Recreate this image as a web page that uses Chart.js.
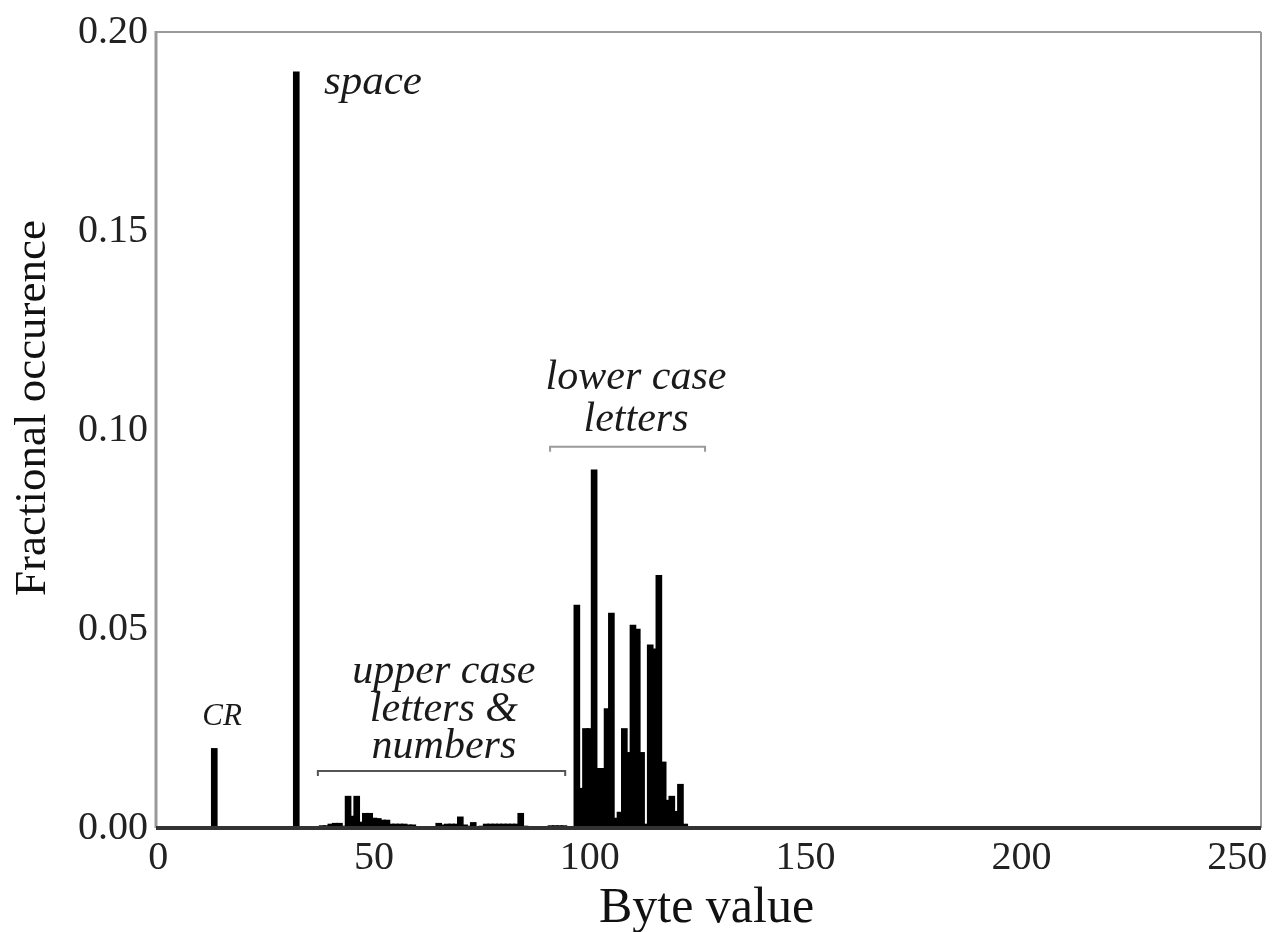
<!DOCTYPE html>
<html>
<head>
<meta charset="utf-8">
<script src="https://cdn.jsdelivr.net/npm/chart.js@4.4.1/dist/chart.umd.min.js"></script>
<style>
  html, body { margin: 0; padding: 0; background: #fff; }
  #c { display: block; }
</style>
</head>
<body>
<canvas id="c" width="1276" height="932"></canvas>
<script>
// ---------- DATA ----------
// control / whitespace bytes
const ctrlBytes     = [13, 32];
const ctrlFractions = [0.020, 0.190];

// punctuation, digits, upper case letters
const upperBytes     = [38, 39, 40, 41, 42, 43, 44, 45, 46, 47, 48, 49, 50, 51, 52, 53, 54, 55, 56, 57, 58, 59,
                        65, 66, 67, 68, 69, 70, 71, 72, 73, 74, 75, 76, 77, 78, 79, 80, 81, 82, 83, 84, 85,
                        91, 92, 93, 94];
const upperFractions = [0.0006, 0.0006, 0.0010, 0.0012, 0.0012, 0.0005, 0.0080, 0.0030, 0.0080, 0.0015,
                        0.0037, 0.0037, 0.0025, 0.0024, 0.0020, 0.0020, 0.0010, 0.0010, 0.0010, 0.0010, 0.0008, 0.0008,
                        0.0012, 0.0008, 0.0010, 0.0010, 0.0010, 0.0028, 0.0008, 0.0005, 0.0014, 0.0003, 0.0005,
                        0.0010, 0.0010, 0.0010, 0.0010, 0.0010, 0.0010, 0.0010, 0.0010, 0.0037, 0.0005,
                        0.0006, 0.0006, 0.0006, 0.0006];

// lower case letters a..z (97..122)
const lowerBytes     = [97, 98, 99, 100, 101, 102, 103, 104, 105, 106, 107, 108, 109,
                        110, 111, 112, 113, 114, 115, 116, 117, 118, 119, 120, 121, 122];
const lowerFractions = [0.056, 0.010, 0.025, 0.025, 0.090, 0.015, 0.015, 0.030, 0.054, 0.0025, 0.004, 0.025, 0.019,
                        0.051, 0.050, 0.019, 0.001, 0.046, 0.045, 0.0635, 0.0166, 0.007, 0.008, 0.0042, 0.011, 0.001];

const byteCount   = 256;
const xTickValues = [0, 50, 100, 150, 200, 250];
const yTickValues = [0, 0.05, 0.10, 0.15, 0.20];

const xTitle = 'Byte value';
const yTitle = 'Fractional occurence';

// ---------- build the table Chart.js needs ----------
const byteLabels = Array.from({ length: byteCount }, (_, i) => String(i));
const fractions  = new Array(byteCount).fill(0);
[[ctrlBytes, ctrlFractions], [upperBytes, upperFractions], [lowerBytes, lowerFractions]].forEach(([b, f]) => {
  b.forEach((byte, i) => { fractions[byte] = f[i]; });
});

// ---------- annotations (positions in data units) ----------
const SERIF = '"Liberation Serif", "Times New Roman", "DejaVu Serif", serif';
const annotations = [
  { lines: ['space'], x: 38.4, y: 0.1844, align: 'left', size: 43, gap: 0 },
  { lines: ['lower case', 'letters'], x: 110.7, y: 0.1104, align: 'center', size: 42, gap: 42 },
  { lines: ['upper case', 'letters &', 'numbers'], x: 66.2, y: 0.0364, align: 'center', size: 42, gap: 37.5 },
  { lines: ['CR'], x: 14.8, y: 0.0258, align: 'center', size: 31, gap: 0 }
];
const brackets = [
  { from: 90.8, to: 126.7, y: 0.0958, color: '#9a9a9a' },
  { from: 37.0, to: 94.3, y: 0.0143, color: '#555555' }
];

const decorPlugin = {
  id: 'decor',
  afterDatasetsDraw(chart) {
    const { ctx, chartArea: a, scales: { x, y } } = chart;
    const px = v => x.left + (v + 0.5) * (x.width / byteCount);
    ctx.save();
    // frame
    ctx.lineCap = 'butt';
    ctx.strokeStyle = '#9a9a9a';
    ctx.lineWidth = 2;
    ctx.beginPath(); ctx.moveTo(a.left, a.top); ctx.lineTo(a.right, a.top); ctx.stroke();
    ctx.beginPath(); ctx.moveTo(a.right, a.top); ctx.lineTo(a.right, a.bottom); ctx.stroke();
    ctx.lineWidth = 3;
    ctx.beginPath(); ctx.moveTo(a.left, a.top - 1); ctx.lineTo(a.left, a.bottom); ctx.stroke();
    ctx.strokeStyle = '#333';
    ctx.lineWidth = 4;
    ctx.beginPath(); ctx.moveTo(a.left, a.bottom); ctx.lineTo(a.right, a.bottom); ctx.stroke();

    // brackets
    brackets.forEach(b => {
      const x0 = px(b.from), x1 = px(b.to), yy = y.getPixelForValue(b.y);
      ctx.strokeStyle = b.color;
      ctx.lineWidth = 2;
      ctx.beginPath();
      ctx.moveTo(x0, yy + 5); ctx.lineTo(x0, yy); ctx.lineTo(x1, yy); ctx.lineTo(x1, yy + 5);
      ctx.stroke();
    });

    // annotation text
    ctx.fillStyle = '#1a1a1a';
    ctx.textBaseline = 'alphabetic';
    annotations.forEach(t => {
      ctx.font = 'italic ' + t.size + 'px ' + SERIF;
      ctx.textAlign = t.align;
      const xx = px(t.x), yy = y.getPixelForValue(t.y);
      t.lines.forEach((line, i) => ctx.fillText(line, xx, yy + i * t.gap));
    });

    // axis titles
    ctx.fillStyle = '#111';
    ctx.font = '50px ' + SERIF;
    ctx.textAlign = 'center';
    ctx.fillText(xTitle, (a.left + a.right) / 2 - 2, 922);
    ctx.save();
    ctx.translate(45, 408);
    ctx.rotate(-Math.PI / 2);
    ctx.font = '45px ' + SERIF;
    ctx.fillText(yTitle, 0, 0);
    ctx.restore();
    ctx.restore();
  }
};

new Chart(document.getElementById('c'), {
  type: 'bar',
  data: {
    labels: byteLabels,
    datasets: [{
      data: fractions,
      backgroundColor: '#000',
      borderWidth: 0,
      barThickness: 6
    }]
  },
  options: {
    responsive: false,
    animation: false,
    layout: { padding: { left: 0, right: 15, top: 31, bottom: 0 } },
    plugins: { legend: { display: false }, tooltip: { enabled: false } },
    scales: {
      x: {
        type: 'category',
        offset: true,
        grid: { display: false, drawTicks: false },
        border: { display: false },
        ticks: {
          autoSkip: false,
          maxRotation: 0,
          minRotation: 0,
          padding: 6,
          color: '#222',
          font: { family: SERIF, size: 40 },
          callback: (v, i) => (xTickValues.indexOf(i) >= 0 ? String(i) : '')
        },
        afterFit: s => { s.height = 104; }
      },
      y: {
        min: 0,
        max: 0.2,
        grid: { display: false, drawTicks: false },
        border: { display: false },
        afterBuildTicks: s => { s.ticks = yTickValues.map(v => ({ value: v })); },
        ticks: {
          padding: 8,
          color: '#222',
          font: { family: SERIF, size: 40 },
          callback: v => Number(v).toFixed(2)
        },
        afterFit: s => { s.width = 156; }
      }
    }
  },
  plugins: [decorPlugin]
});
</script>
</body>
</html>
